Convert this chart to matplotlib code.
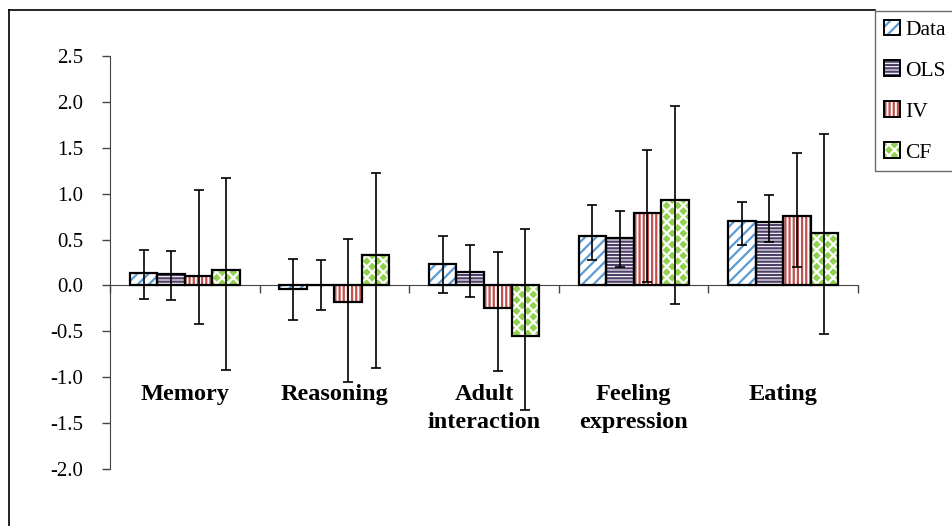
import numpy as np
import matplotlib.pyplot as plt
from matplotlib.lines import Line2D
from matplotlib.legend_handler import HandlerTuple

categories = ['Memory', 'Reasoning', 'Adult\ninteraction', 'Feeling\nexpression', 'Eating']
series = ['Data', 'OLS', 'IV', 'CF']

data_val = [0.14, -0.04, 0.23, 0.54, 0.70]
data_lo = [-0.15, -0.38, -0.08, 0.28, 0.44]
data_hi = [0.39, 0.29, 0.54, 0.88, 0.91]

ols_val = [0.13, 0.01, 0.15, 0.52, 0.69]
ols_lo = [-0.16, -0.27, -0.13, 0.20, 0.47]
ols_hi = [0.37, 0.28, 0.44, 0.81, 0.99]

iv_val = [0.10, -0.175, -0.25, 0.79, 0.76]
iv_lo = [-0.42, -1.05, -0.93, 0.04, 0.20]
iv_hi = [1.04, 0.51, 0.36, 1.48, 1.44]

cf_val = [0.17, 0.33, -0.55, 0.93, 0.57]
cf_lo = [-0.92, -0.90, -1.36, -0.20, -0.53]
cf_hi = [1.17, 1.23, 0.62, 1.95, 1.65]

vals = [data_val, ols_val, iv_val, cf_val]
los = [data_lo, ols_lo, iv_lo, cf_lo]
his = [data_hi, ols_hi, iv_hi, cf_hi]

# face, hatch colour, hatch
styles = [
    ('white', '#5B9BD5', '///'),
    ('white', '#4E4068', '-----'),
    ('white', '#C0504D', '||||'),
    ('#92D050', 'white', 'xxx'),
]

plt.rcParams['font.family'] = 'Liberation Serif'
plt.rcParams['hatch.linewidth'] = 1.6

fig = plt.figure(figsize=(9.53, 5.26), dpi=100)
ax = fig.add_axes([110 / 953, 1 - 469 / 526, 748 / 953, 413 / 526])

x = np.arange(len(categories))
w = 0.184
handles = []
for j, name in enumerate(series):
    face, hcol, hatch = styles[j]
    pos = x + (j - 1.5) * w
    v = np.array(vals[j])
    ax.bar(pos, v, w, color=face, edgecolor=hcol, hatch=hatch, linewidth=0, zorder=2)
    ax.bar(pos, v, w, fill=False, edgecolor='black', linewidth=1.6, zorder=3)
    yerr = [v - np.array(los[j]), np.array(his[j]) - v]
    ax.errorbar(pos, v, yerr=yerr, fmt='none', ecolor='black', elinewidth=1.2,
                capsize=3.5, capthick=1.2, zorder=4)
    h_fill = plt.Rectangle((0, 0), 1, 1, facecolor=face, edgecolor=hcol,
                           hatch=hatch, linewidth=0)
    h_edge = plt.Rectangle((0, 0), 1, 1, fill=False, edgecolor='black', linewidth=1.4)
    handles.append((h_fill, h_edge))

ax.set_xlim(-0.5, 4.5)
ax.set_ylim(-2.0, 2.5)
ax.set_yticks(np.arange(-2.0, 2.51, 0.5))
ax.set_yticklabels([f'{t:.1f}' for t in np.arange(-2.0, 2.51, 0.5)], fontsize=15)
ax.tick_params(axis='y', direction='out', length=6, width=1, color='#444444', pad=13)

ax.spines['top'].set_visible(False)
ax.spines['right'].set_visible(False)
ax.spines['left'].set_color('#444444')
ax.spines['bottom'].set_position(('data', 0))
ax.spines['bottom'].set_color('#444444')
ax.set_xticks(np.arange(-0.5, 4.6, 1.0))
ax.set_xticklabels([])
ax.tick_params(axis='x', direction='out', length=6, width=1, color='#444444')

for i, cat in enumerate(categories):
    ax.text(x[i], -1.075, cat, ha='center', va='top', fontsize=17.5,
            fontweight='bold', linespacing=1.45)

leg = fig.legend(handles, series, loc='upper left',
                 bbox_to_anchor=(875 / 953, 1 - 11 / 526), fontsize=15.5,
                 handler_map={tuple: HandlerTuple(ndivide=1, pad=0)},
                 frameon=True, fancybox=False, edgecolor='#444444',
                 handlelength=0.75, handleheight=0.75, handletextpad=0.25,
                 labelspacing=0.95, borderpad=0.4, borderaxespad=0)
leg.get_frame().set_linewidth(1.0)

# outer chart border (left and top)
fig.add_artist(Line2D([9 / 953, 9 / 953], [0, 1 - 10 / 526], color='black', lw=1.2))
fig.add_artist(Line2D([9 / 953, 875 / 953], [1 - 10 / 526, 1 - 10 / 526], color='black', lw=1.2))

fig.savefig('out.png', dpi=100)
